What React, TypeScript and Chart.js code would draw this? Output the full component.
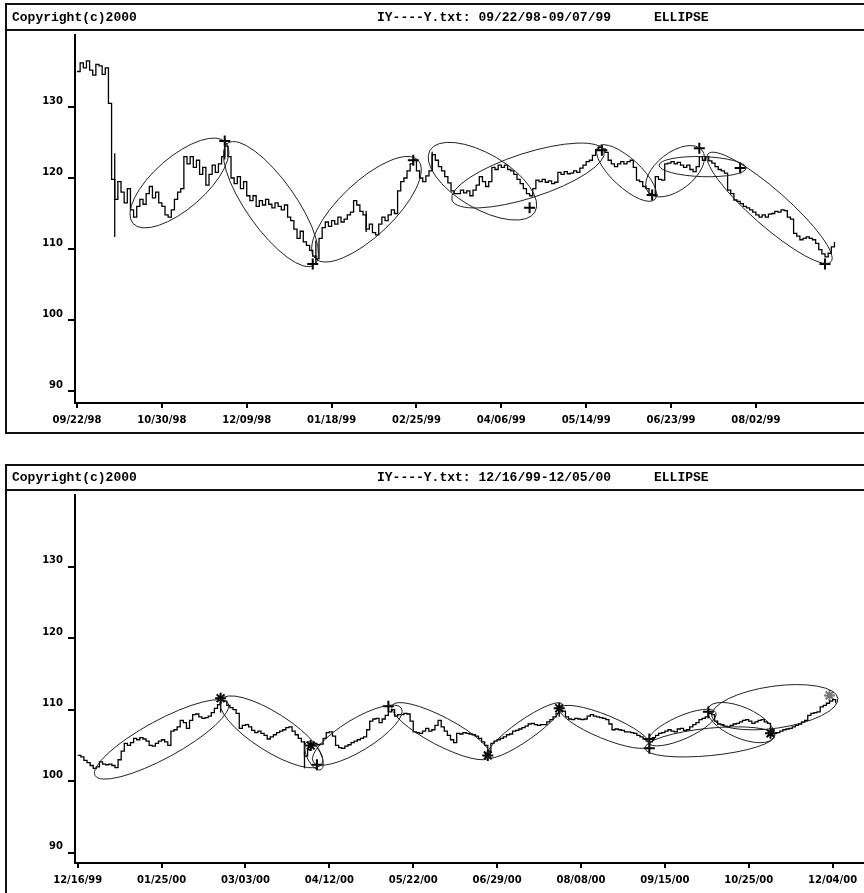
import React, { useEffect, useRef } from "react";
import { Chart, registerables } from "chart.js";
Chart.register(...registerables);

const TICK_STEP = 27;
const Y_TICKS = [90, 100, 110, 120, 130];

// ---------- Panel 1 : 09/22/98 - 09/07/99 ----------
const DATES_1 = ["09/22/98", "10/30/98", "12/09/98", "01/18/99", "02/25/99", "04/06/99", "05/14/99", "06/23/99", "08/02/99"];
const CLOSE_1 = [
  135.0, 136.2, 135.5, 136.5, 135.2, 134.5, 136.0, 135.8, 134.6, 135.5,
  130.5, 119.8, 117.0, 119.5, 118.0, 116.5, 118.5, 115.5, 114.5, 116.0,
  117.0, 116.3, 117.8, 118.8, 117.2, 118.0, 116.5, 116.0, 114.8, 114.5,
  115.5, 117.0, 118.0, 118.5, 123.0, 122.0, 123.0, 121.5, 122.5, 120.5,
  121.5, 119.0, 120.5, 121.8, 120.8, 122.0, 123.0, 124.5, 123.0, 120.0,
  119.2, 120.2, 118.5, 119.5, 117.5, 116.8, 117.5, 116.0, 116.8, 116.2,
  117.0, 116.3, 115.8, 116.5, 116.0, 115.5, 116.2, 114.5, 114.0, 112.8,
  111.5, 112.5, 111.0, 110.5, 109.8, 109.0, 108.6, 111.5, 113.0, 113.8,
  113.2, 114.0, 113.5, 114.5, 113.8, 114.2, 114.8, 115.2, 116.8, 116.2,
  115.3, 114.8, 112.8, 113.5, 112.3, 112.0, 113.5, 114.5, 114.0, 114.8,
  115.5, 115.0, 118.2, 119.5, 120.0, 121.0, 122.0, 122.5, 121.0, 120.0,
  119.5, 120.3, 121.0, 123.3, 122.5, 121.6, 121.0, 120.2, 119.3, 118.2,
  117.8, 117.8, 118.3, 117.9, 118.2, 117.5, 118.3, 119.0, 120.2, 119.5,
  118.8, 119.5, 121.5, 121.2, 121.8, 121.5, 121.8, 121.2, 121.0, 120.5,
  119.8, 119.2, 118.5, 117.8, 117.5, 118.5, 119.7, 119.5, 119.8, 119.4,
  119.6, 119.2, 119.4, 120.8, 120.5, 120.9, 120.6, 120.7, 121.0, 120.8,
  121.4, 121.8, 122.3, 122.5, 123.2, 124.0, 124.3, 124.1, 123.6, 122.5,
  122.0, 121.6, 122.0, 122.3, 122.0, 122.3, 122.5, 121.5, 119.7, 119.5,
  118.8, 118.5, 117.8, 117.6, 120.2, 119.8, 119.7, 122.0, 122.1, 122.3,
  122.0, 122.2, 121.8, 121.5, 121.8, 121.2, 120.9, 121.6, 123.0, 122.5,
  123.0, 122.4, 122.1, 121.6, 121.2, 121.0, 120.7, 118.3, 117.8, 116.9,
  116.7, 116.4, 116.0, 115.8, 115.5, 115.2, 114.8, 114.5, 114.8, 114.5,
  114.9, 115.0, 115.3, 115.2, 115.5, 115.4, 114.5, 114.2, 112.2, 111.8,
  111.3, 111.5, 111.7, 111.5, 111.3, 110.8, 109.9, 109.3, 108.9, 109.4,
  110.3, 111.0,
];
// [bar, low, high]
const WICKS_1 = [[12, 111.7, 123.5], [47, 122.6, 125.0], [76, 107.9, 111.2], [92, 112.4, 115.4], [113, 121.0, 123.7]];
// [bar1, price1, bar2, price2] : tips of each ellipse
const ELLIPSES_1 = [
  [17.8, 113.6, 47.4, 125.0],
  [48.0, 124.9, 75.4, 107.75],
  [75.7, 108.7, 108.5, 122.5],
  [112.3, 123.9, 145.7, 115.2],
  [119.3, 116.9, 167.7, 123.8],
  [165.8, 124.4, 183.9, 117.0],
  [181.7, 118.0, 198.9, 123.9],
  [185.2, 121.8, 212.9, 121.4],
  [200.8, 123.4, 239.9, 108.2],
];
const ELLIPSE_RATIO_1 = [0.42, 0.33, 0.38, 0.45, 0.28, 0.37, 0.55, 0.23, 0.22];
const PIVOT_X_1 = [47, 75, 107, 144, 167, 183, 198, 211, 238];
const PIVOT_Y_1 = [125.2, 107.9, 122.5, 115.8, 123.9, 117.6, 124.2, 121.4, 107.9];
const PIVOT_STYLE_1 = ["cross", "cross", "cross", "cross", "cross", "cross", "cross", "cross", "cross"];

// ---------- Panel 2 : 12/16/99 - 12/05/00 ----------
const DATES_2 = ["12/16/99", "01/25/00", "03/03/00", "04/12/00", "05/22/00", "06/29/00", "08/08/00", "09/15/00", "10/25/00", "12/04/00"];
const CLOSE_2 = [
  103.6, 103.4, 102.9, 102.6, 102.2, 101.8, 102.0, 102.7, 102.4, 102.3,
  102.4, 102.2, 101.9, 103.0, 104.2, 105.3, 105.0, 105.4, 106.0, 105.8,
  106.1, 105.9, 105.6, 105.0, 104.9, 105.3, 105.6, 105.8, 105.5, 105.0,
  107.0, 107.2, 107.6, 108.5, 108.2, 107.4, 108.5, 109.3, 109.4, 109.0,
  108.8, 108.9, 109.1, 109.6, 110.2, 110.7, 111.3, 111.2, 110.6, 110.3,
  110.0, 109.5, 107.4, 107.8, 107.9, 107.6, 107.1, 106.8, 107.0, 106.7,
  106.4, 105.9, 106.2, 106.5, 106.8, 107.0, 107.2, 107.5, 107.6, 107.0,
  106.5, 106.0, 105.5, 103.5, 104.4, 105.0, 105.3, 105.1, 105.2, 106.0,
  106.8, 106.9, 106.3, 105.0, 104.7, 104.6, 104.9, 105.1, 105.4, 105.6,
  105.8, 106.0, 106.2, 107.2, 108.4, 108.7, 108.8, 108.2, 108.7, 109.2,
  109.7, 110.0, 109.1, 109.3, 109.3, 109.5, 109.4, 108.4, 106.9, 106.8,
  106.7, 107.0, 107.4, 107.0, 107.2, 107.8, 108.5, 107.6, 107.0, 106.4,
  105.8, 105.4, 106.7, 106.6, 106.8, 106.7, 106.6, 106.5, 106.3, 106.0,
  105.5, 105.0, 104.2, 105.3, 105.6, 105.8, 106.0, 106.2, 106.5, 106.6,
  107.0, 107.1, 107.3, 107.5, 107.7, 108.0, 108.1, 107.9, 107.8, 107.9,
  107.9, 108.3, 108.6, 109.0, 109.5, 109.9, 109.8, 109.0, 108.7, 108.6,
  108.8, 108.7, 108.6, 108.7, 109.1, 109.3, 109.1, 109.0, 108.9, 108.8,
  108.6, 108.0, 107.2, 107.3, 107.2, 107.1, 106.9, 106.9, 106.8, 106.7,
  106.4, 106.2, 105.9, 105.6, 105.5, 106.1, 106.4, 106.7, 106.8, 107.0,
  107.2, 107.0, 106.9, 107.3, 107.4, 107.1, 107.2, 107.6, 107.9, 108.2,
  108.6, 108.8, 109.0, 109.5, 109.3, 108.4, 108.0, 107.9, 107.7, 107.6,
  107.8, 108.0, 108.1, 108.3, 108.5, 108.6, 108.4, 108.1, 108.3, 108.5,
  108.6, 108.3, 108.1, 107.2, 106.7, 106.8, 107.0, 107.2, 107.3, 107.4,
  107.6, 107.8, 108.0, 108.3, 108.5, 109.2, 109.5, 109.6, 109.7, 110.4,
  110.6, 110.9, 111.2, 111.4, 110.9,
];
const WICKS_2 = [[46, 109.6, 111.8], [73, 101.8, 105.6], [155, 109.0, 110.3], [203, 108.8, 109.9]];
const ELLIPSES_2 = [
  [5.6, 100.8, 48.4, 110.9],
  [46.1, 111.4, 78.6, 102.4],
  [73.8, 105.5, 78.3, 101.6],
  [75.8, 102.7, 104.2, 110.2],
  [101.2, 110.6, 132.7, 103.4],
  [131.7, 103.4, 155.9, 110.8],
  [155.2, 110.2, 184.2, 105.0],
  [183.6, 105.4, 205.4, 109.6],
  [182.6, 104.6, 224.4, 106.4],
  [202.9, 110.2, 224.1, 106.2],
  [204.1, 109.1, 244.7, 111.6],
];
const ELLIPSE_RATIO_2 = [0.25, 0.32, 0.45, 0.31, 0.255, 0.22, 0.24, 0.31, 0.21, 0.43, 0.33];
const PIVOT_X_2 = [46, 75, 77, 100, 132, 155, 184, 184, 203, 223, 242];
const PIVOT_Y_2 = [111.6, 105.0, 102.3, 110.5, 103.6, 110.2, 105.9, 104.6, 109.7, 106.7, 112.0];
const PIVOT_STYLE_2 = ["star", "star", "cross", "cross", "star", "star", "cross", "cross", "cross", "star", "star"];

const PANEL_1 = {
  closes: CLOSE_1, dates: DATES_1, wicks: WICKS_1, ellipses: ELLIPSES_1, ratios: ELLIPSE_RATIO_1,
  px: PIVOT_X_1, py: PIVOT_Y_1, pstyle: PIVOT_STYLE_1, lastGray: false,
  title: "IY----Y.txt: 09/22/98-09/07/99",
  xMin: -0.64, xMax: 250.4, yMin: 88.31, yMax: 140.14,
  frameTop: 4, headerLine: 30, headerText: 18, frameBottom: 433, areaTop: 35, xAxisH: 37,
};
const PANEL_2 = {
  closes: CLOSE_2, dates: DATES_2, wicks: WICKS_2, ellipses: ELLIPSES_2, ratios: ELLIPSE_RATIO_2,
  px: PIVOT_X_2, py: PIVOT_Y_2, pstyle: PIVOT_STYLE_2, lastGray: true,
  title: "IY----Y.txt: 12/16/99-12/05/00",
  xMin: -0.87, xMax: 253.1, yMin: 88.56, yMax: 140.03,
  frameTop: 25, headerLine: 50, headerText: 38, frameBottom: 470, areaTop: 55, xAxisH: 30,
};

const AXIS_FONT = { family: '"DejaVu Sans", sans-serif', size: 10, weight: "bold" as const };

function buildChart(canvas: HTMLCanvasElement, p: any) {
  const framePlugin = {
    id: "frameAndOverlays",
    beforeDraw(chart: any) {
      const ctx = chart.ctx;
      const W = chart.width;
      ctx.save();
      ctx.fillStyle = "#fff";
      ctx.fillRect(0, 0, W, chart.height);
      ctx.strokeStyle = "#111";
      ctx.lineWidth = 2;
      ctx.beginPath();
      ctx.moveTo(W + 4, p.frameTop);
      ctx.lineTo(6, p.frameTop);
      ctx.lineTo(6, p.frameBottom);
      ctx.lineTo(W + 4, p.frameBottom);
      ctx.moveTo(6, p.headerLine);
      ctx.lineTo(W + 4, p.headerLine);
      ctx.stroke();
      ctx.fillStyle = "#000";
      ctx.font = 'bold 13px "Liberation Mono", monospace';
      ctx.textBaseline = "middle";
      ctx.fillText("Copyright(c)2000", 12, p.headerText);
      ctx.fillText(p.title, 377, p.headerText);
      ctx.fillText("ELLIPSE", 654, p.headerText);
      ctx.restore();
    },
    afterDatasetsDraw(chart: any) {
      const ctx = chart.ctx;
      const xs = chart.scales.x;
      const ys = chart.scales.y;
      const area = chart.chartArea;
      ctx.save();
      ctx.beginPath();
      ctx.rect(area.left, area.top, area.right - area.left, area.bottom - area.top);
      ctx.clip();
      ctx.strokeStyle = "#000";
      ctx.lineWidth = 1.3;
      for (const [i, lo, hi] of p.wicks) {
        const x = xs.getPixelForValue(i);
        ctx.beginPath();
        ctx.moveTo(x, ys.getPixelForValue(lo));
        ctx.lineTo(x, ys.getPixelForValue(hi));
        ctx.stroke();
      }
      ctx.strokeStyle = "#222";
      ctx.lineWidth = 1;
      p.ellipses.forEach((e: number[], k: number) => {
        const x1 = xs.getPixelForValue(e[0]);
        const y1 = ys.getPixelForValue(e[1]);
        const x2 = xs.getPixelForValue(e[2]);
        const y2 = ys.getPixelForValue(e[3]);
        const a = Math.hypot(x2 - x1, y2 - y1) / 2;
        const b = a * p.ratios[k];
        const ang = Math.atan2(y2 - y1, x2 - x1);
        ctx.beginPath();
        ctx.ellipse((x1 + x2) / 2, (y1 + y2) / 2, a, b, ang, 0, Math.PI * 2);
        ctx.stroke();
      });
      ctx.restore();
    },
  };

  const lastIdx = p.px.length - 1;
  return new Chart(canvas, {
    type: "line",
    data: {
      datasets: [
        {
          data: p.closes.map((c: number, i: number) => ({ x: i, y: c })),
          stepped: "before",
          borderColor: "#000",
          borderWidth: 1.3,
          pointRadius: 0,
          fill: false,
        },
        {
          type: "scatter",
          data: p.px.map((x: number, k: number) => ({ x, y: p.py[k] })),
          pointStyle: p.pstyle,
          pointRadius: 5.5,
          pointBorderWidth: 2,
          pointBorderColor: p.px.map((_: number, k: number) => (p.lastGray && k === lastIdx ? "#777" : "#000")),
          pointBackgroundColor: "#000",
          showLine: false,
        } as any,
      ],
    },
    options: {
      animation: false,
      responsive: false,
      devicePixelRatio: 1,
      events: [],
      layout: { autoPadding: false, padding: { top: p.areaTop, left: 0, right: 0, bottom: 0 } },
      plugins: { legend: { display: false }, tooltip: { enabled: false } },
      scales: {
        x: {
          type: "linear",
          min: p.xMin,
          max: p.xMax,
          afterBuildTicks: (s: any) => {
            s.ticks = p.dates.map((_: string, k: number) => ({ value: k * TICK_STEP }));
          },
          afterFit: (s: any) => {
            s.height = p.xAxisH;
            s.paddingLeft = 0;
            s.paddingRight = 0;
          },
          ticks: {
            autoSkip: false,
            maxRotation: 0,
            padding: 6,
            color: "#000",
            font: AXIS_FONT,
            callback: (v: any) => p.dates[Math.round(Number(v) / TICK_STEP)] ?? "",
          },
          grid: { drawOnChartArea: false, tickLength: 5, color: "#000", lineWidth: 2 },
          border: { display: true, color: "#000", width: 2 },
        },
        y: {
          type: "linear",
          min: p.yMin,
          max: p.yMax,
          afterBuildTicks: (s: any) => {
            s.ticks = Y_TICKS.map((v) => ({ value: v }));
          },
          afterFit: (s: any) => {
            s.width = 75;
            s.paddingTop = 0;
            s.paddingBottom = 0;
          },
          ticks: {
            padding: 5,
            labelOffset: -6,
            color: "#000",
            font: AXIS_FONT,
            callback: (v: any) => String(v),
          },
          grid: { drawOnChartArea: false, tickLength: 7, color: "#000", lineWidth: 2 },
          border: { display: true, color: "#000", width: 2 },
        },
      },
    } as any,
    plugins: [framePlugin],
  });
}

export default function App() {
  const r1 = useRef<HTMLCanvasElement>(null);
  const r2 = useRef<HTMLCanvasElement>(null);
  useEffect(() => {
    const c1 = buildChart(r1.current!, PANEL_1);
    const c2 = buildChart(r2.current!, PANEL_2);
    return () => {
      c1.destroy();
      c2.destroy();
    };
  }, []);
  return (
    <div style={{ position: "absolute", left: 0, top: 0, width: 864, height: 893, background: "#fff", overflow: "hidden" }}>
      <canvas ref={r1} width={864} height={440} style={{ position: "absolute", left: 0, top: 0, display: "block" }} />
      <canvas ref={r2} width={864} height={453} style={{ position: "absolute", left: 0, top: 440, display: "block" }} />
    </div>
  );
}
